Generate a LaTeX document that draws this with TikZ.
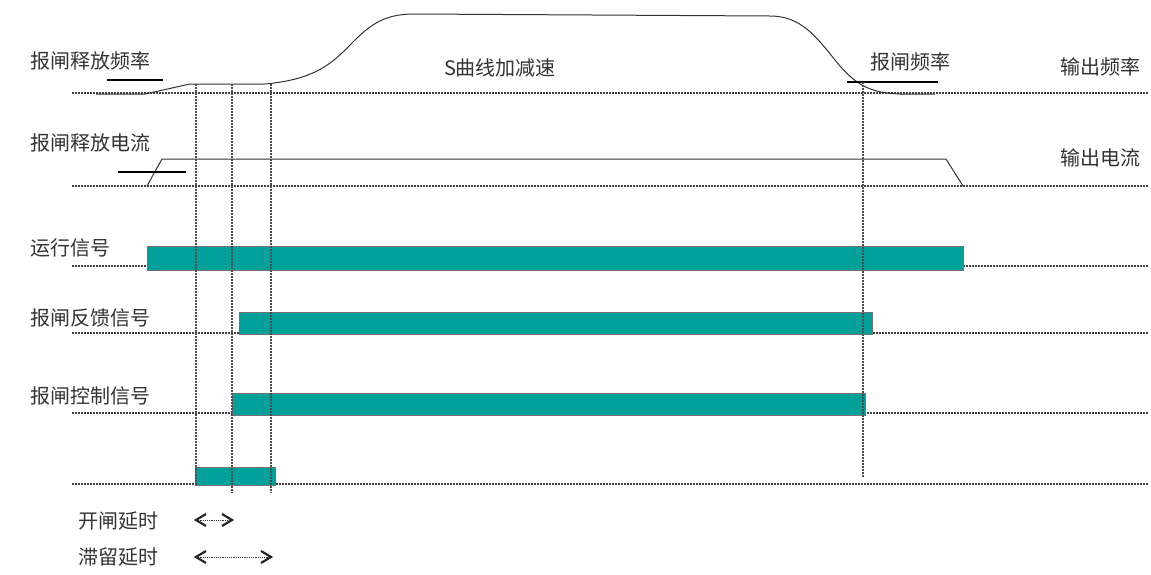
\documentclass[tikz,border=0pt]{standalone}
\usepackage{fontspec}
\setmainfont{Noto Sans CJK SC}
\definecolor{teal1}{HTML}{00A19A}
\definecolor{txt}{HTML}{333333}
\begin{document}
\begin{tikzpicture}[x=1pt,y=-1pt,
  lbl/.style={font=\fontsize{20}{22}\selectfont, text=txt, inner sep=0pt},
  base/.style={draw=black!75, line width=1.1pt, dash pattern=on 1.6pt off 1.4pt},
  vline/.style={draw=black!70, line width=1.1pt, dash pattern=on 1.6pt off 1.4pt},
  bar/.style={fill=teal1, draw=black!55, line width=0.6pt},
  sig/.style={draw=black!80, line width=1pt},
  refmark/.style={draw=black, line width=1.8pt},
  delay/.style={draw=black!80, line width=1pt, dash pattern=on 1.2pt off 1pt},
  chev/.style={draw=black!85, line width=2.2pt, line join=miter}]
\useasboundingbox (0,0) rectangle (1151,574);
% baselines
\draw[base] (72,93) -- (1148,93);
\draw[base] (72,186) -- (1148,186);
\draw[base] (72,266) -- (147,266);
\draw[base] (963,266) -- (1148,266);
\draw[base] (72,333) -- (1148,333);
\draw[base] (72,413) -- (1148,413);
\draw[base] (72,484) -- (1148,484);
% output frequency curve
\draw[sig] (96,94) -- (145,94) -- (190,84) -- (265,84)
  .. controls (320,79) and (335,60) .. (355,40)
  .. controls (375,20) and (390,14) .. (415,14) -- (770,16)
  .. controls (800,16) and (815,35) .. (835,60)
  .. controls (855,85) and (870,93) .. (900,94) -- (935,94);
% output current
\draw[sig] (147,186) -- (162,159) -- (946,159) -- (963,186);
% reference marks
\draw[refmark] (107,80) -- (163,80);
\draw[refmark] (847,82) -- (938,82);
\draw[refmark] (118,172) -- (186,172);
% signal bars
\node[bar, inner sep=0pt, minimum width=816pt, minimum height=24pt, anchor=north west] (run) at (147,246) {};
\node[bar, inner sep=0pt, minimum width=633pt, minimum height=22pt, anchor=north west] (fb) at (239,312) {};
\node[bar, inner sep=0pt, minimum width=633pt, minimum height=22pt, anchor=north west] (ctl) at (232,393) {};
\node[bar, inner sep=0pt, minimum width=80pt, minimum height=18pt, anchor=north west] (dly) at (195,467) {};
% vertical timing lines
\draw[vline] (196,84) -- (196,486);
\draw[vline] (232,84) -- (232,493);
\draw[vline] (271,84) -- (271,493);
\draw[vline] (863,82) -- (863,477);
% labels
\node[lbl, anchor=west] (l1) at (30,61) {报闸释放频率};
\node[lbl, anchor=west] (l2) at (30,143) {报闸释放电流};
\node[lbl] (l3) at (500,68) {S曲线加减速};
\node[lbl, anchor=west] (l4) at (870,62) {报闸频率};
\node[lbl, anchor=west] (l5) at (1060,67) {输出频率};
\node[lbl, anchor=west] (l6) at (1060,158) {输出电流};
\node[lbl, anchor=west] (l7) at (30,248) {运行信号};
\node[lbl, anchor=west] (l8) at (30,318) {报闸反馈信号};
\node[lbl, anchor=west] (l9) at (30,396) {报闸控制信号};
\node[lbl, anchor=west] (l10) at (78,521) {开闸延时};
\node[lbl, anchor=west] (l11) at (78,557) {滞留延时};
% delay arrows
\coordinate (a1) at (196,520);
\coordinate (a2) at (232,520);
\coordinate (b1) at (196,557);
\coordinate (b2) at (271,557);
\draw[delay] (a1) -- (a2);
\draw[delay] (b1) -- (b2);
\draw[chev] ([shift={(10,-6)}]a1) -- (a1) -- ([shift={(10,6)}]a1);
\draw[chev] ([shift={(-10,-6)}]a2) -- (a2) -- ([shift={(-10,6)}]a2);
\draw[chev] ([shift={(10,-6)}]b1) -- (b1) -- ([shift={(10,6)}]b1);
\draw[chev] ([shift={(-10,-6)}]b2) -- (b2) -- ([shift={(-10,6)}]b2);
\end{tikzpicture}
\end{document}
